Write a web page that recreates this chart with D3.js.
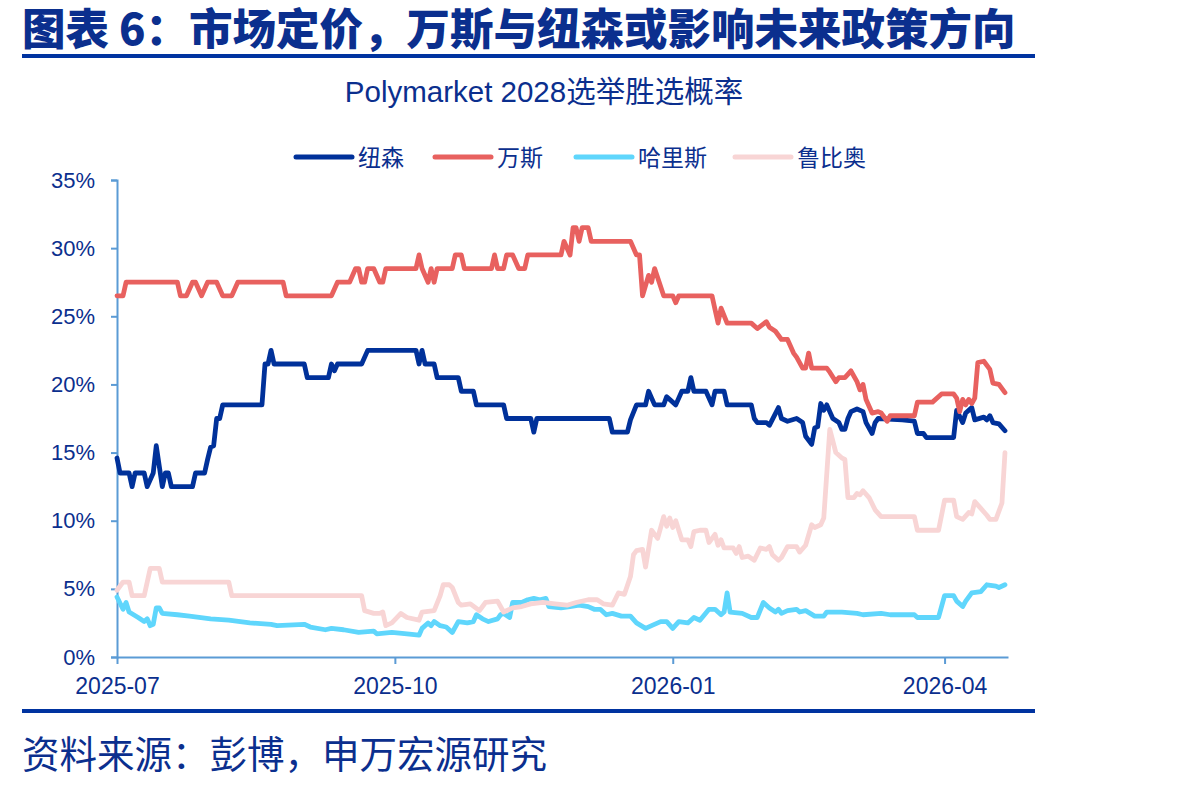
<!DOCTYPE html>
<html>
<head>
<meta charset="utf-8">
<script src="https://cdn.jsdelivr.net/npm/d3@7"></script>
<style>
  body { margin: 0; background: #fff; }
  text { font-family: "Liberation Sans", Arial, "Noto Sans CJK SC", sans-serif; }
  .cjk { font-family: "Noto Sans CJK SC", sans-serif; }
</style>
</head>
<body>
<svg id="chart" width="1190" height="787"></svg>
<script>
let titleText = "图表 6：市场定价，万斯与纽森或影响未来政策方向";
let subTitle = "Polymarket 2028选举胜选概率";
let sourceText = "资料来源：彭博，申万宏源研究";

let seriesNames = ["纽森", "万斯", "哈里斯", "鲁比奥"];
let seriesColors = ["#00319a", "#e8615f", "#5fd6fc", "#f8d5d5"];

let xTickDates = ["2025-07-01", "2025-10-01", "2026-01-01", "2026-04-01"];
let yTicks = [0, 5, 10, 15, 20, 25, 30, 35];

// 纽森
let newsom = [["2025-07-01",14.6],["2025-07-02",13.5],["2025-07-05",13.5],["2025-07-06",12.5],["2025-07-07",13.5],["2025-07-10",13.5],["2025-07-11",12.5],["2025-07-13",13.5],["2025-07-14",15.5],["2025-07-16",12.5],["2025-07-17",13.5],["2025-07-18",13.5],["2025-07-19",12.5],["2025-07-26",12.5],["2025-07-27",13.5],["2025-07-30",13.5],["2025-07-31",14.5],["2025-08-01",15.4],["2025-08-02",15.5],["2025-08-03",17.5],["2025-08-04",17.5],["2025-08-05",18.5],["2025-08-18",18.5],["2025-08-19",21.5],["2025-08-20",21.5],["2025-08-21",22.5],["2025-08-22",21.5],["2025-09-01",21.5],["2025-09-02",20.5],["2025-09-09",20.5],["2025-09-10",21.5],["2025-09-11",21.0],["2025-09-12",21.5],["2025-09-20",21.5],["2025-09-22",22.5],["2025-10-08",22.5],["2025-10-09",21.5],["2025-10-10",22.5],["2025-10-11",21.5],["2025-10-14",21.5],["2025-10-15",20.5],["2025-10-22",20.5],["2025-10-23",19.5],["2025-10-27",19.5],["2025-10-28",18.5],["2025-11-06",18.5],["2025-11-07",17.5],["2025-11-15",17.5],["2025-11-16",16.5],["2025-11-17",17.5],["2025-12-11",17.5],["2025-12-12",16.5],["2025-12-17",16.5],["2025-12-18",17.4],["2025-12-20",18.5],["2025-12-23",18.5],["2025-12-24",19.5],["2025-12-26",18.5],["2025-12-29",18.5],["2025-12-30",19.1],["2026-01-02",18.5],["2026-01-04",19.5],["2026-01-06",19.5],["2026-01-07",20.5],["2026-01-08",19.5],["2026-01-12",19.5],["2026-01-14",18.5],["2026-01-15",19.5],["2026-01-18",19.5],["2026-01-19",18.5],["2026-01-27",18.5],["2026-01-28",17.5],["2026-01-29",17.2],["2026-02-01",17.2],["2026-02-02",17.0],["2026-02-05",18.3],["2026-02-06",17.5],["2026-02-08",17.3],["2026-02-11",17.5],["2026-02-13",17.2],["2026-02-14",16.2],["2026-02-16",15.6],["2026-02-17",16.8],["2026-02-18",16.9],["2026-02-19",18.6],["2026-02-20",18.1],["2026-02-21",18.5],["2026-02-23",17.5],["2026-02-25",17.2],["2026-02-26",16.7],["2026-02-27",16.7],["2026-02-28",17.5],["2026-03-01",18.0],["2026-03-03",18.2],["2026-03-05",18.0],["2026-03-06",17.2],["2026-03-08",16.4],["2026-03-09",17.2],["2026-03-10",17.5],["2026-03-18",17.4],["2026-03-22",17.3],["2026-03-23",16.4],["2026-03-25",16.4],["2026-03-26",16.1],["2026-04-04",16.1],["2026-04-05",18.1],["2026-04-07",17.2],["2026-04-08",17.9],["2026-04-10",18.3],["2026-04-11",17.4],["2026-04-14",17.6],["2026-04-15",17.4],["2026-04-16",17.7],["2026-04-17",17.2],["2026-04-19",17.1],["2026-04-21",16.6]];

// 万斯
let vance = [["2025-07-01",26.5],["2025-07-03",26.5],["2025-07-04",27.5],["2025-07-21",27.5],["2025-07-22",26.5],["2025-07-24",26.5],["2025-07-26",27.5],["2025-07-27",27.5],["2025-07-29",26.5],["2025-07-31",27.5],["2025-08-03",27.5],["2025-08-05",26.5],["2025-08-08",26.5],["2025-08-10",27.5],["2025-08-25",27.5],["2025-08-26",26.5],["2025-09-10",26.5],["2025-09-12",27.5],["2025-09-16",27.5],["2025-09-18",28.5],["2025-09-19",28.5],["2025-09-20",27.5],["2025-09-21",27.5],["2025-09-22",28.5],["2025-09-24",28.5],["2025-09-26",27.5],["2025-09-27",27.5],["2025-09-28",28.5],["2025-10-08",28.5],["2025-10-09",29.5],["2025-10-10",28.5],["2025-10-12",27.5],["2025-10-13",28.5],["2025-10-14",27.5],["2025-10-15",28.5],["2025-10-20",28.5],["2025-10-21",29.5],["2025-10-23",29.5],["2025-10-24",28.5],["2025-11-02",28.5],["2025-11-03",29.5],["2025-11-04",28.5],["2025-11-06",28.5],["2025-11-07",29.5],["2025-11-09",29.5],["2025-11-11",28.5],["2025-11-13",28.5],["2025-11-14",29.5],["2025-11-25",29.5],["2025-11-26",30.5],["2025-11-28",29.5],["2025-11-29",31.5],["2025-11-30",31.5],["2025-12-01",30.5],["2025-12-02",31.5],["2025-12-04",31.5],["2025-12-05",30.5],["2025-12-18",30.5],["2025-12-20",29.5],["2025-12-21",29.5],["2025-12-22",26.5],["2025-12-24",28.0],["2025-12-25",27.5],["2025-12-26",28.5],["2025-12-29",26.5],["2026-01-01",26.5],["2026-01-02",26.0],["2026-01-03",26.5],["2026-01-14",26.5],["2026-01-15",25.5],["2026-01-16",24.5],["2026-01-17",25.6],["2026-01-19",24.5],["2026-01-27",24.5],["2026-01-29",24.1],["2026-02-01",24.6],["2026-02-02",24.2],["2026-02-04",23.9],["2026-02-06",23.3],["2026-02-08",23.3],["2026-02-10",22.3],["2026-02-11",22.0],["2026-02-13",21.2],["2026-02-14",21.2],["2026-02-15",22.3],["2026-02-16",21.2],["2026-02-21",21.2],["2026-02-22",20.9],["2026-02-24",20.2],["2026-02-25",20.5],["2026-02-27",20.5],["2026-03-01",21.0],["2026-03-03",20.2],["2026-03-04",19.6],["2026-03-05",20.0],["2026-03-06",18.9],["2026-03-08",17.9],["2026-03-10",18.0],["2026-03-11",17.9],["2026-03-13",17.3],["2026-03-14",17.7],["2026-03-22",17.7],["2026-03-23",18.7],["2026-03-28",18.7],["2026-03-31",19.3],["2026-04-04",19.3],["2026-04-05",19.0],["2026-04-06",18.0],["2026-04-07",18.9],["2026-04-08",18.5],["2026-04-09",18.9],["2026-04-10",18.6],["2026-04-11",19.0],["2026-04-12",21.6],["2026-04-14",21.7],["2026-04-16",21.1],["2026-04-17",20.1],["2026-04-19",20.0],["2026-04-21",19.4]];

// 哈里斯
let harris = [["2025-07-01",4.4],["2025-07-03",3.5],["2025-07-04",4.0],["2025-07-05",3.3],["2025-07-08",2.9],["2025-07-10",2.6],["2025-07-11",2.8],["2025-07-12",2.3],["2025-07-13",2.4],["2025-07-14",3.6],["2025-07-15",3.6],["2025-07-16",3.2],["2025-07-21",3.1],["2025-07-25",3.0],["2025-08-01",2.8],["2025-08-07",2.7],["2025-08-14",2.5],["2025-08-21",2.4],["2025-08-23",2.3],["2025-09-01",2.4],["2025-09-03",2.2],["2025-09-08",2.0],["2025-09-10",2.1],["2025-09-14",2.0],["2025-09-19",1.8],["2025-09-24",1.9],["2025-09-25",1.7],["2025-09-30",1.8],["2025-10-05",1.7],["2025-10-09",1.6],["2025-10-10",2.1],["2025-10-12",2.5],["2025-10-13",2.3],["2025-10-14",2.6],["2025-10-16",2.3],["2025-10-18",2.2],["2025-10-20",1.8],["2025-10-22",2.6],["2025-10-25",2.5],["2025-10-27",2.6],["2025-10-28",3.1],["2025-10-30",2.8],["2025-11-01",2.6],["2025-11-04",2.8],["2025-11-05",3.1],["2025-11-06",3.2],["2025-11-08",2.9],["2025-11-09",4.0],["2025-11-12",4.0],["2025-11-14",4.2],["2025-11-16",4.3],["2025-11-18",4.2],["2025-11-20",4.3],["2025-11-21",3.7],["2025-11-25",3.6],["2025-11-28",3.7],["2025-12-01",3.8],["2025-12-04",3.7],["2025-12-06",3.5],["2025-12-08",3.5],["2025-12-10",3.1],["2025-12-12",3.2],["2025-12-15",3.0],["2025-12-18",3.0],["2025-12-20",2.5],["2025-12-23",2.1],["2025-12-25",2.3],["2025-12-28",2.6],["2025-12-30",2.6],["2026-01-01",2.1],["2026-01-03",2.6],["2026-01-06",2.5],["2026-01-08",2.9],["2026-01-10",2.7],["2026-01-13",3.5],["2026-01-15",3.5],["2026-01-17",3.1],["2026-01-18",3.3],["2026-01-19",4.7],["2026-01-20",3.3],["2026-01-24",3.2],["2026-01-27",2.9],["2026-01-29",2.9],["2026-01-31",4.0],["2026-02-02",3.6],["2026-02-04",3.3],["2026-02-05",3.5],["2026-02-06",3.2],["2026-02-08",3.4],["2026-02-11",3.5],["2026-02-12",3.3],["2026-02-14",3.4],["2026-02-17",3.0],["2026-02-20",3.0],["2026-02-21",3.3],["2026-02-26",3.3],["2026-03-03",3.2],["2026-03-05",3.1],["2026-03-11",3.2],["2026-03-14",3.1],["2026-03-22",3.1],["2026-03-23",2.9],["2026-03-30",2.9],["2026-04-01",4.5],["2026-04-04",4.5],["2026-04-05",4.1],["2026-04-07",3.7],["2026-04-08",4.1],["2026-04-10",4.7],["2026-04-13",4.8],["2026-04-15",5.3],["2026-04-18",5.2],["2026-04-19",5.1],["2026-04-21",5.3]];

// 鲁比奥
let rubio = [["2025-07-01",4.9],["2025-07-03",5.5],["2025-07-05",5.5],["2025-07-06",4.5],["2025-07-10",4.5],["2025-07-12",6.5],["2025-07-15",6.5],["2025-07-16",5.5],["2025-08-07",5.5],["2025-08-08",4.5],["2025-09-20",4.5],["2025-09-21",3.4],["2025-09-24",3.2],["2025-09-26",3.2],["2025-09-27",3.3],["2025-09-28",2.3],["2025-09-30",2.5],["2025-10-03",3.2],["2025-10-05",2.9],["2025-10-09",2.7],["2025-10-10",3.3],["2025-10-14",3.4],["2025-10-16",4.5],["2025-10-17",5.3],["2025-10-19",5.3],["2025-10-20",5.1],["2025-10-22",4.0],["2025-10-23",3.8],["2025-10-26",3.9],["2025-10-29",3.4],["2025-10-31",4.0],["2025-11-04",4.1],["2025-11-06",3.3],["2025-11-09",3.6],["2025-11-12",3.7],["2025-11-15",3.9],["2025-11-19",4.0],["2025-11-23",3.9],["2025-11-27",3.8],["2025-11-30",4.0],["2025-12-04",4.2],["2025-12-07",4.2],["2025-12-09",3.9],["2025-12-12",3.8],["2025-12-14",4.7],["2025-12-16",4.6],["2025-12-18",5.9],["2025-12-19",7.5],["2025-12-20",7.8],["2025-12-22",7.9],["2025-12-23",6.6],["2025-12-25",9.3],["2025-12-27",8.7],["2025-12-29",10.3],["2025-12-30",9.6],["2025-12-31",10.2],["2026-01-01",9.5],["2026-01-02",10.0],["2026-01-04",8.6],["2026-01-06",8.6],["2026-01-07",8.1],["2026-01-08",9.2],["2026-01-10",9.3],["2026-01-12",9.3],["2026-01-13",8.4],["2026-01-15",9.0],["2026-01-16",8.2],["2026-01-17",8.6],["2026-01-18",8.0],["2026-01-21",8.0],["2026-01-22",7.6],["2026-01-23",8.1],["2026-01-24",7.3],["2026-01-26",7.4],["2026-01-28",7.1],["2026-01-30",8.0],["2026-02-01",7.9],["2026-02-02",8.1],["2026-02-03",7.5],["2026-02-05",7.1],["2026-02-06",7.3],["2026-02-08",8.1],["2026-02-11",8.1],["2026-02-12",7.7],["2026-02-14",8.2],["2026-02-16",9.7],["2026-02-17",9.5],["2026-02-19",9.7],["2026-02-20",10.2],["2026-02-22",16.7],["2026-02-24",15.0],["2026-02-26",14.6],["2026-02-27",14.5],["2026-02-28",11.7],["2026-03-02",11.7],["2026-03-03",12.0],["2026-03-04",11.9],["2026-03-05",12.2],["2026-03-07",11.7],["2026-03-09",10.8],["2026-03-11",10.3],["2026-03-22",10.3],["2026-03-23",9.3],["2026-03-30",9.3],["2026-04-01",11.5],["2026-04-04",11.5],["2026-04-05",10.3],["2026-04-07",10.1],["2026-04-09",10.6],["2026-04-10",10.5],["2026-04-11",11.4],["2026-04-13",10.9],["2026-04-15",10.4],["2026-04-16",10.1],["2026-04-18",10.1],["2026-04-20",11.3],["2026-04-21",15.0]];

let allSeries = [newsom, vance, harris, rubio];

let navy = "#0b2f8e";
let axisColor = "#5b9bd5";
let parseDate = d3.timeParse("%Y-%m-%d");

window.onload = function() {
  makeChart();
}

function makeChart(){
  let svg = d3.select("#chart");

  // header
  svg.append("text")
    .attr("class", "cjk")
    .attr("x", 22).attr("y", 45)
    .attr("font-size", 43.5).attr("font-weight", 900)
    .attr("fill", navy)
    .text(titleText);
  svg.append("rect")
    .attr("x", 22).attr("y", 54).attr("width", 1013).attr("height", 4)
    .attr("fill", "#0033a0");

  svg.append("text")
    .attr("x", 544).attr("y", 102)
    .attr("text-anchor", "middle")
    .attr("font-size", 29.5)
    .attr("fill", navy)
    .text(subTitle);

  // scales
  let x = d3.scaleTime()
    .domain([parseDate("2025-07-01"), parseDate("2026-04-22")])
    .range([117, 1008]);
  let y = d3.scaleLinear()
    .domain([0, 35])
    .range([657, 180]);

  // y axis
  let yAxis = d3.axisLeft(y)
    .tickValues(yTicks)
    .tickSize(6)
    .tickPadding(16)
    .tickFormat(d => d + "%");
  let gy = svg.append("g")
    .attr("transform", "translate(117,0)")
    .call(yAxis);
  gy.select(".domain").attr("stroke", axisColor).attr("stroke-width", 2);
  gy.selectAll(".tick line").attr("stroke", axisColor).attr("stroke-width", 2);
  gy.selectAll(".tick text")
    .attr("fill", navy)
    .attr("font-size", 22)
    .attr("font-family", "Liberation Sans, Arial, sans-serif");

  // x axis
  let xAxis = d3.axisBottom(x)
    .tickValues(xTickDates.map(parseDate))
    .tickSize(7)
    .tickSizeOuter(0)
    .tickPadding(14)
    .tickFormat(d3.timeFormat("%Y-%m"));
  let gx = svg.append("g")
    .attr("transform", "translate(0,657)")
    .call(xAxis);
  gx.select(".domain").attr("stroke", axisColor).attr("stroke-width", 2);
  gx.selectAll(".tick line").attr("stroke", axisColor).attr("stroke-width", 2);
  gx.selectAll(".tick text")
    .attr("fill", navy)
    .attr("font-size", 23)
    .attr("font-family", "Liberation Sans, Arial, sans-serif");

  // lines
  let line = d3.line()
    .x(d => x(parseDate(d[0])))
    .y(d => y(d[1]));

  svg.append("g").selectAll("path")
    .data(allSeries)
    .join("path")
    .attr("d", line)
    .attr("fill", "none")
    .attr("stroke", (d, i) => seriesColors[i])
    .attr("stroke-width", 4.8)
    .attr("stroke-linejoin", "round")
    .attr("stroke-linecap", "round");

  // legend
  let legendX = [296, 435, 576, 735];
  let legend = svg.append("g").selectAll("g")
    .data(seriesNames)
    .join("g")
    .attr("transform", (d, i) => "translate(" + legendX[i] + ",157)");
  legend.append("line")
    .attr("x1", 0).attr("x2", 56)
    .attr("y1", 0).attr("y2", 0)
    .attr("stroke", (d, i) => seriesColors[i])
    .attr("stroke-width", 5)
    .attr("stroke-linecap", "round");
  legend.append("text")
    .attr("class", "cjk")
    .attr("x", 62).attr("y", 9)
    .attr("font-size", 23)
    .attr("fill", navy)
    .text(d => d);

  // footer
  svg.append("rect")
    .attr("x", 22).attr("y", 709).attr("width", 1013).attr("height", 4)
    .attr("fill", "#0033a0");
  svg.append("text")
    .attr("class", "cjk")
    .attr("x", 22).attr("y", 768)
    .attr("font-size", 37.5)
    .attr("fill", navy)
    .text(sourceText);
}
</script>
</body>
</html>
